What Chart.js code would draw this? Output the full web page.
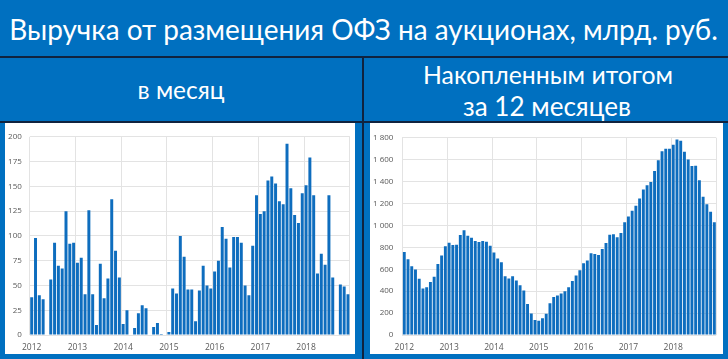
<!DOCTYPE html>
<html><head><meta charset="utf-8">
<script src="https://cdn.jsdelivr.net/npm/chart.js@4"></script>
<style>
html,body{margin:0;padding:0;}
body{width:728px;height:359px;background:#0070C0;position:relative;overflow:hidden;font-family:Lato,'Open Sans',sans-serif;}
.t{position:absolute;color:#fff;white-space:nowrap;line-height:1;left:0;top:0;}
.ln{position:absolute;background:#10233f;}
.panel{position:absolute;background:#fff;}
canvas{position:absolute;display:block;}
</style></head><body>
<div class="t" id="title">Выручка от размещения ОФЗ на аукционах, млрд. руб.</div>
<div class="t" id="subL">в месяц</div>
<div class="t" id="subR1">Накопленным итогом</div>
<div class="t" id="subR2">за 12 месяцев</div>
<div class="ln" style="left:0;top:56px;width:728px;height:2px"></div>
<div class="ln" style="left:0;top:121px;width:728px;height:2px"></div>
<div class="ln" style="left:362px;top:57px;width:2px;height:302px"></div>
<div class="panel" style="left:5px;top:123px;width:350px;height:231px"></div>
<div class="panel" style="left:370px;top:123px;width:353px;height:231px"></div>
<canvas id="cL" width="350" height="230" style="left:5px;top:124px;width:350px;height:230px"></canvas>
<canvas id="cR" width="353" height="230" style="left:370px;top:124px;width:353px;height:230px"></canvas>
<script>
// ---- data ----
const years = ['2012','2013','2014','2015','2016','2017','2018'];
const monthNums = ['01','02','03','04','05','06','07','08','09','10','11','12'];
const categories = [];
years.forEach(y => monthNums.forEach(m => categories.push(y + '-' + m)));

// Monthly revenue, bn RUB
const monthlyRevenue = [
  38, 98, 40, 36, 0, 56, 93, 70, 67, 125, 92, 93,
  73, 78, 41, 126, 41, 10, 72, 37, 57, 137, 85, 58,
  11, 25, 0, 7, 22, 30, 27, 0, 8, 12, 1, 0,
  3, 47, 42, 100, 79, 46, 46, 14, 45, 70, 50, 47,
  64, 75, 109, 97, 68, 99, 99, 93, 50, 40, 90, 141,
  122, 125, 156, 160, 153, 135, 132, 193, 148, 121, 113, 143,
  151, 179, 141, 62, 82, 71, 141, 58, 0, 51, 49, 41
];
// Rolling 12-month total, bn RUB
const rolling12m = [
  758, 692, 627, 597, 513, 424, 436, 484, 531, 648, 725, 809,
  842, 821, 824, 913, 955, 907, 887, 857, 848, 857, 851, 815,
  752, 698, 663, 537, 516, 537, 498, 454, 406, 284, 197, 137,
  131, 152, 194, 290, 346, 361, 379, 400, 436, 493, 543, 591,
  654, 681, 746, 740, 731, 785, 839, 916, 919, 893, 931, 1030,
  1081, 1134, 1179, 1245, 1328, 1367, 1397, 1498, 1594, 1678, 1701, 1701,
  1737, 1785, 1773, 1672, 1603, 1543, 1546, 1412, 1263, 1194, 1125, 1030
];
const leftTickLabels = ['0','25','50','75','100','125','150','175','200'];
const rightTickLabels = ['0','200','400','600','800','1 000','1 200','1 400','1 600','1 800'];

// ---- text layout ----
function fit(id, w, cx, cy){
  const el=document.getElementById(id);
  el.style.fontSize='100px';
  const r=el.getBoundingClientRect();
  const fs=100*w/r.width;
  el.style.fontSize=fs+'px';
  const r2=el.getBoundingClientRect();
  el.style.left=(cx-r2.width/2)+'px';
  el.style.top=(cy-r2.height/2)+'px';
}
fit('title',709,363.5,30);
fit('subL',87,181,90);
fit('subR1',250,548,75);
fit('subR2',168,547,106);

// ---- charts ----
const BAR='#0E6DBE';
const GRID='#E3E3E3';
const TICK='#595959';
const FONT="'Open Sans', sans-serif";
const gridX = ctx => (ctx.index === undefined || ctx.index % 12 === 0) ? GRID : 'rgba(0,0,0,0)';
const xLabel = (v,i) => i % 12 === 0 ? years[i/12] : '';

function makeChart(id, data, max, step, tickLabels, yWidth, padR, padT, yPad){
  return new Chart(document.getElementById(id), {
    type:'bar',
    data:{labels:categories, datasets:[{data:data, backgroundColor:BAR, borderWidth:0, barPercentage:0.78, categoryPercentage:1}]},
    options:{
      responsive:false, animation:false, devicePixelRatio:1,
      layout:{padding:{left:0,right:padR,top:padT,bottom:0}},
      plugins:{legend:{display:false}, tooltip:{enabled:false}},
      scales:{
        x:{
          offset:true,
          grid:{offset:true, drawTicks:false, color:gridX, lineWidth:1},
          border:{display:false},
          ticks:{autoSkip:false, maxRotation:0, minRotation:0, padding:7, color:TICK, font:{size:8.5, family:FONT}, callback:xLabel},
          afterFit:s=>{s.height=19;}
        },
        y:{
          min:0, max:max,
          grid:{drawTicks:false, color:GRID, lineWidth:1},
          border:{display:false},
          ticks:{stepSize:step, padding:yPad, color:TICK, font:{size:8, family:FONT}, callback:(v,i)=>tickLabels[i]},
          afterFit:s=>{s.width=yWidth;}
        }
      }
    }
  });
}
makeChart('cL', monthlyRevenue, 200, 25, leftTickLabels, 24.8, 3.5, 11.7, 8);
makeChart('cR', rolling12m, 1800, 200, rightTickLabels, 32.4, 6.8, 10, 9);
</script>
</body></html>
